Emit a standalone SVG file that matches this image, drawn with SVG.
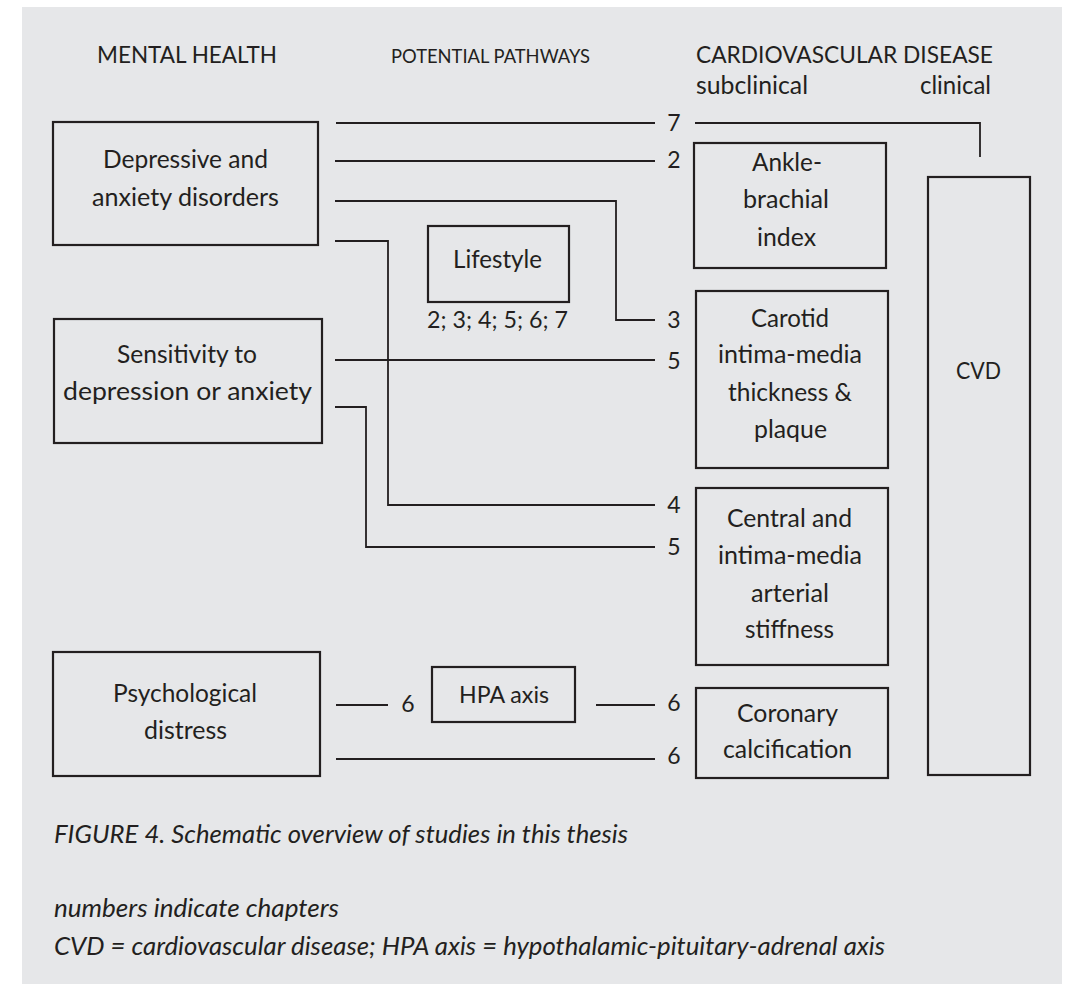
<svg xmlns="http://www.w3.org/2000/svg" width="1070" height="984" viewBox="0 0 1070 984">
<style>
.bx{fill:none;stroke:#231f20;stroke-width:2.2}
.ln{fill:none;stroke:#231f20;stroke-width:1.8}
text{font-family:Lato,"Open Sans","Liberation Sans",sans-serif;font-size:23px;fill:#231f20}
.c{text-anchor:middle}
.t{font-size:25px}
.sc{font-size:18.5px}
.cap{font-style:italic;font-size:25px}
</style>
<rect x="0" y="0" width="1070" height="984" fill="#ffffff"/>
<rect x="22" y="7" width="1040" height="977" fill="#e6e7e9"/>
<g id="headers">
<text x="97" y="63" textLength="180" lengthAdjust="spacingAndGlyphs">MENTAL HEALTH</text>
<text x="391" y="63" class="sc" textLength="199" lengthAdjust="spacingAndGlyphs">POTENTIAL PATHWAYS</text>
<text x="696" y="63" textLength="297" lengthAdjust="spacingAndGlyphs">CARDIOVASCULAR DISEASE</text>
<text x="696" y="94" class="t" textLength="112" lengthAdjust="spacingAndGlyphs">subclinical</text>
<text x="920" y="94" class="t" textLength="71" lengthAdjust="spacingAndGlyphs">clinical</text>
</g>
<g id="connectors">
<polyline class="ln" points="336,123 655,123"/>
<polyline class="ln" points="695,123 980,123 980,157"/>
<polyline class="ln" points="335,161 655,161"/>
<polyline class="ln" points="335,201 616,201 616,320 655,320"/>
<polyline class="ln" points="335,241 388,241 388,505 655,505"/>
<polyline class="ln" points="335,360 655,360"/>
<polyline class="ln" points="335,407 366,407 366,547 655,547"/>
<polyline class="ln" points="336,705 388,705"/>
<polyline class="ln" points="596,705 655,705"/>
<polyline class="ln" points="336,759 655,759"/>
<g id="labels">
<text x="674" y="131" class="c">7</text>
<text x="674" y="168" class="c">2</text>
<text x="674" y="328" class="c">3</text>
<text x="674" y="369" class="c">5</text>
<text x="674" y="513" class="c">4</text>
<text x="674" y="555" class="c">5</text>
<text x="408" y="712" class="c">6</text>
<text x="674" y="711" class="c">6</text>
<text x="674" y="764" class="c">6</text>
</g>
</g>
<g id="depressive">
<rect class="bx" x="53" y="122" width="265" height="123"/>
<text x="185.5" y="168" class="c t" textLength="165" lengthAdjust="spacingAndGlyphs">Depressive and</text>
<text x="185.5" y="206" class="c t" textLength="187" lengthAdjust="spacingAndGlyphs">anxiety disorders</text>
</g>
<g id="sensitivity">
<rect class="bx" x="54" y="319" width="268" height="124"/>
<text x="187" y="363" class="c t" textLength="140" lengthAdjust="spacingAndGlyphs">Sensitivity to</text>
<text x="187.5" y="400" class="c t" textLength="249" lengthAdjust="spacingAndGlyphs">depression or anxiety</text>
</g>
<g id="psychological">
<rect class="bx" x="53" y="652" width="267" height="124"/>
<text x="185" y="702" class="c t" textLength="144" lengthAdjust="spacingAndGlyphs">Psychological</text>
<text x="185.5" y="739" class="c t" textLength="83" lengthAdjust="spacingAndGlyphs">distress</text>
</g>
<g id="lifestyle">
<rect class="bx" x="428" y="226" width="141" height="76"/>
<text x="497.5" y="268" class="c t" textLength="89" lengthAdjust="spacingAndGlyphs">Lifestyle</text>
<text x="497.5" y="328" class="c" textLength="141" lengthAdjust="spacingAndGlyphs">2; 3; 4; 5; 6; 7</text>
</g>
<g id="hpa">
<rect class="bx" x="432" y="667" width="143" height="55"/>
<text x="504" y="703" class="c" textLength="90" lengthAdjust="spacingAndGlyphs">HPA axis</text>
</g>
<g id="ankle">
<rect class="bx" x="694" y="143" width="192" height="125"/>
<text x="787" y="171" class="c t" textLength="70" lengthAdjust="spacingAndGlyphs">Ankle-</text>
<text x="786" y="208" class="c t" textLength="86" lengthAdjust="spacingAndGlyphs">brachial</text>
<text x="786.5" y="246" class="c t" textLength="59" lengthAdjust="spacingAndGlyphs">index</text>
</g>
<g id="carotid">
<rect class="bx" x="696" y="291" width="192" height="177"/>
<text x="790" y="327" class="c t" textLength="78" lengthAdjust="spacingAndGlyphs">Carotid</text>
<text x="790" y="363" class="c t" textLength="144" lengthAdjust="spacingAndGlyphs">intima-media</text>
<text x="790" y="401" class="c t" textLength="124" lengthAdjust="spacingAndGlyphs">thickness &amp;</text>
<text x="790.5" y="438" class="c t" textLength="73" lengthAdjust="spacingAndGlyphs">plaque</text>
</g>
<g id="central">
<rect class="bx" x="696" y="488" width="192" height="177"/>
<text x="789.5" y="527" class="c t" textLength="125" lengthAdjust="spacingAndGlyphs">Central and</text>
<text x="790" y="564" class="c t" textLength="144" lengthAdjust="spacingAndGlyphs">intima-media</text>
<text x="790" y="602" class="c t" textLength="78" lengthAdjust="spacingAndGlyphs">arterial</text>
<text x="789.5" y="638" class="c t" textLength="89" lengthAdjust="spacingAndGlyphs">stiffness</text>
</g>
<g id="coronary">
<rect class="bx" x="696" y="688" width="192" height="90"/>
<text x="787.5" y="722" class="c t" textLength="101" lengthAdjust="spacingAndGlyphs">Coronary</text>
<text x="787.5" y="758" class="c t" textLength="129" lengthAdjust="spacingAndGlyphs">calcification</text>
</g>
<g id="cvd">
<rect class="bx" x="928" y="177" width="102" height="598"/>
<text x="978.5" y="379" class="c" textLength="45" lengthAdjust="spacingAndGlyphs">CVD</text>
</g>
<g id="caption">
<text x="54" y="843" class="cap" textLength="574" lengthAdjust="spacingAndGlyphs">FIGURE 4. Schematic overview of studies in this thesis</text>
<text x="54" y="917" class="cap" textLength="285" lengthAdjust="spacingAndGlyphs">numbers indicate chapters</text>
<text x="54" y="955" class="cap" textLength="831" lengthAdjust="spacingAndGlyphs">CVD = cardiovascular disease; HPA axis = hypothalamic-pituitary-adrenal axis</text>
</g>
</svg>
